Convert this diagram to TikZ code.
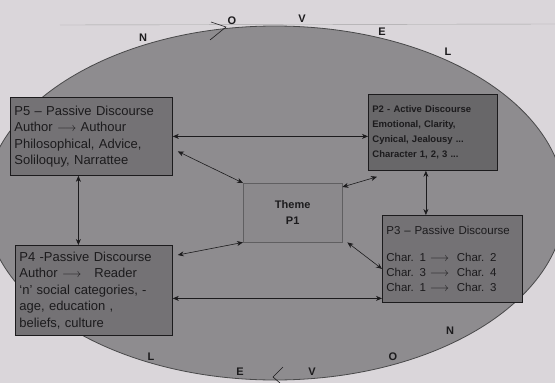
\documentclass[tikz,border=0pt]{standalone}
\usepackage{fontspec}
\setmainfont{Liberation Sans}
\usetikzlibrary{arrows.meta}
\definecolor{paper}{HTML}{DAD6DA}
\definecolor{oval}{HTML}{8E8C8F}
\definecolor{boxgray}{HTML}{747275}
\definecolor{themegray}{HTML}{8B898C}
\definecolor{ink}{HTML}{1C1B1D}
\begin{document}
\begin{tikzpicture}[x=1pt, y=-1pt,
		main/.style = {draw=ink, thick, fill=boxgray, anchor=north west, align=left, inner sep=4pt, text=ink, font=\fontsize{13}{16.5}\selectfont},
		link/.style = {{Stealth[length=6pt,width=5pt]}-{Stealth[length=6pt,width=5pt]}, draw=ink, semithick},
		letter/.style = {text=ink, font=\bfseries\fontsize{11}{11}\selectfont}]
		\useasboundingbox (0,0) rectangle (555,383);
		\fill[paper] (0,0) rectangle (555,383);
		\draw[gray!70, thin] (60,25) -- (555,24);
		
		\begin{scope}
			\clip (0,0) rectangle (555,383);
			\filldraw[fill=oval, draw=ink!80, line width=0.8pt] (275,203) ellipse [x radius=290, y radius=177];
		\end{scope}
		
		\node[main, text width=154pt, minimum height=78pt] (p5) at (10,97) {P5 -- Passive Discourse\\Author $\longrightarrow$ Authour\\Philosophical, Advice,\\Soliloquy, Narrattee};
		\node[main, text width=121pt, minimum height=76pt, fill=boxgray!90!black, font=\bfseries\fontsize{9.5}{15}\selectfont] (p2) at (368,94) {P2 - Active Discourse\\Emotional, Clarity,\\Cynical, Jealousy ...\\Character 1, 2, 3 ...};
		\node[main, text width=132pt, minimum height=87pt, font=\fontsize{11.5}{15}\selectfont] (p3) at (382,215) {P3 -- Passive Discourse\\[12pt]Char. 1 $\longrightarrow$\ \ Char. 2\\Char. 3 $\longrightarrow$\ \ Char. 4\\Char. 1 $\longrightarrow$\ \ Char. 3};
		\node[main, text width=149pt, minimum height=90pt] (p4) at (15,245) {P4 -Passive Discourse\\Author $\longrightarrow$\ \ \ Reader\\`n' social categories, -\\age, education ,\\beliefs, culture};
		\node[main, thin, fill=themegray, draw=ink!70, align=center, minimum width=99pt, minimum height=59pt, font=\bfseries\fontsize{11}{16}\selectfont] (theme) at (243,183) {Theme\\P1};
		
		\draw[link] (p5.east) -- (p5.east -| p2.west);
		\draw[link] ([shift={(5,15)}]p5.east) -- (theme.north west);
		\draw[link] ([shift={(0,4)}]theme.north east) -- ([shift={(9,6)}]p2.south west);
		\draw[link] ([xshift=-13pt]p5.south) -- ([xshift=-13pt]p5.south |- p4.north);
		\draw[link] ([xshift=-7pt]p2.south) -- ([xshift=-7pt]p2.south |- p3.north);
		\draw[link] (theme.south west) -- ([shift={(5,10)}]p4.north east);
		\draw[link] ([shift={(5,0)}]theme.south east) -- ([shift={(0,10)}]p3.west);
		\draw[link] ([shift={(0,8)}]p4.east) -- ([shift={(0,8)}]p4.east -| p3.west);
		
		% letters round the oval
		\node[letter] (n1) at (143,38) {N};
		\node[letter] (o1) at (232,21) {O};
		\node[letter] (v1) at (302,19) {V};
		\node[letter] (e1) at (382,32) {E};
		\node[letter] (l1) at (448,52) {L};
		\node[letter] (l2) at (151,357) {L};
		\node[letter] (e2) at (240,372) {E};
		\node[letter] (v2) at (312,372) {V};
		\node[letter] (o2) at (393,357) {O};
		\node[letter] (n2) at (450,331) {N};
		\draw[ink, semithick] (211,22) -- (226,27) -- (210,40);
		\draw[ink, semithick] (283,367) -- (273,377) -- (280,383);
		
	\end{tikzpicture}
\end{document}
